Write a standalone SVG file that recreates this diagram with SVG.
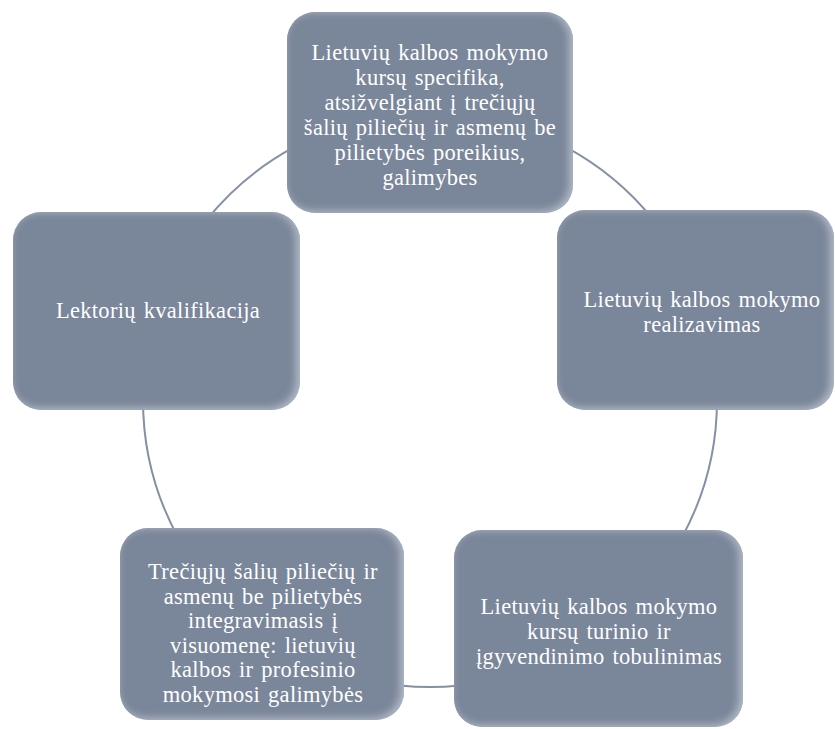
<svg xmlns="http://www.w3.org/2000/svg" width="835" height="729" viewBox="0 0 835 729">
  <defs>
    <!-- soft inner bevel: light rim along the inside edges, stronger on the right -->
    <filter id="bevel" x="-5%" y="-5%" width="110%" height="110%">
      <feGaussianBlur in="SourceAlpha" stdDeviation="4" result="blur"/>
      <feOffset in="blur" dx="-3" dy="-1" result="shift"/>
      <feComposite in="SourceAlpha" in2="shift" operator="arithmetic" k2="1" k3="-1" result="rim"/>
      <feFlood flood-color="#c3ccda" flood-opacity="0.75"/>
      <feComposite in2="rim" operator="in" result="light"/>
      <feGaussianBlur in="SourceGraphic" stdDeviation="0.6" result="soft"/>
      <feMerge>
        <feMergeNode in="soft"/>
        <feMergeNode in="light"/>
      </feMerge>
    </filter>
    <style>
      .box { fill: #7a869a; filter: url(#bevel); }
      .lbl { font-family: "Liberation Serif", "Times New Roman", serif; font-size: 22.5px; letter-spacing: 0.3px; word-spacing: 2px; fill: #ffffff; text-anchor: middle; }
      .link { fill: none; stroke: #8590a4; stroke-width: 2; }
    </style>
  </defs>

  <rect width="835" height="729" fill="#ffffff"/>

  <!-- ring segments joining the five stages -->
  <g id="connectors">
    <path class="link" d="M565,146.7 A287,287 0 0 1 653.5,220"/>
    <path class="link" d="M717,400 A287,287 0 0 1 680.5,540"/>
    <path class="link" d="M460,685.4 A287,287 0 0 1 400,685.4"/>
    <path class="link" d="M179.5,540 A287,287 0 0 1 143,400"/>
    <path class="link" d="M206.5,220 A287,287 0 0 1 295,146.7"/>
  </g>

  <g id="node-specifika">
    <rect class="box" x="287" y="12" width="286" height="201" rx="28"/>
    <text class="lbl" x="430" y="60">Lietuvių kalbos mokymo</text>
    <text class="lbl" x="430" y="85">kursų specifika,</text>
    <text class="lbl" x="430" y="110">atsižvelgiant į trečiųjų</text>
    <text class="lbl" x="430" y="135">šalių piliečių ir asmenų be</text>
    <text class="lbl" x="430" y="160">pilietybės poreikius,</text>
    <text class="lbl" x="430" y="185">galimybes</text>
  </g>

  <g id="node-realizavimas">
    <rect class="box" x="557" y="210" width="277" height="200" rx="28"/>
    <text class="lbl" x="702" y="307">Lietuvių kalbos mokymo</text>
    <text class="lbl" x="702" y="332">realizavimas</text>
  </g>

  <g id="node-tobulinimas">
    <rect class="box" x="454" y="530" width="289" height="197" rx="28"/>
    <text class="lbl" x="599" y="614">Lietuvių kalbos mokymo</text>
    <text class="lbl" x="599" y="639">kursų turinio ir</text>
    <text class="lbl" x="599" y="664">įgyvendinimo tobulinimas</text>
  </g>

  <g id="node-integravimasis">
    <rect class="box" x="120" y="528" width="284" height="192" rx="28"/>
    <text class="lbl" x="263" y="579">Trečiųjų šalių piliečių ir</text>
    <text class="lbl" x="263" y="603.5">asmenų be pilietybės</text>
    <text class="lbl" x="263" y="628">integravimasis į</text>
    <text class="lbl" x="263" y="652.5">visuomenę: lietuvių</text>
    <text class="lbl" x="263" y="677">kalbos ir profesinio</text>
    <text class="lbl" x="263" y="701.5">mokymosi galimybės</text>
  </g>

  <g id="node-kvalifikacija">
    <rect class="box" x="13" y="212" width="287" height="198" rx="28"/>
    <text class="lbl" x="158" y="318">Lektorių kvalifikacija</text>
  </g>
</svg>
